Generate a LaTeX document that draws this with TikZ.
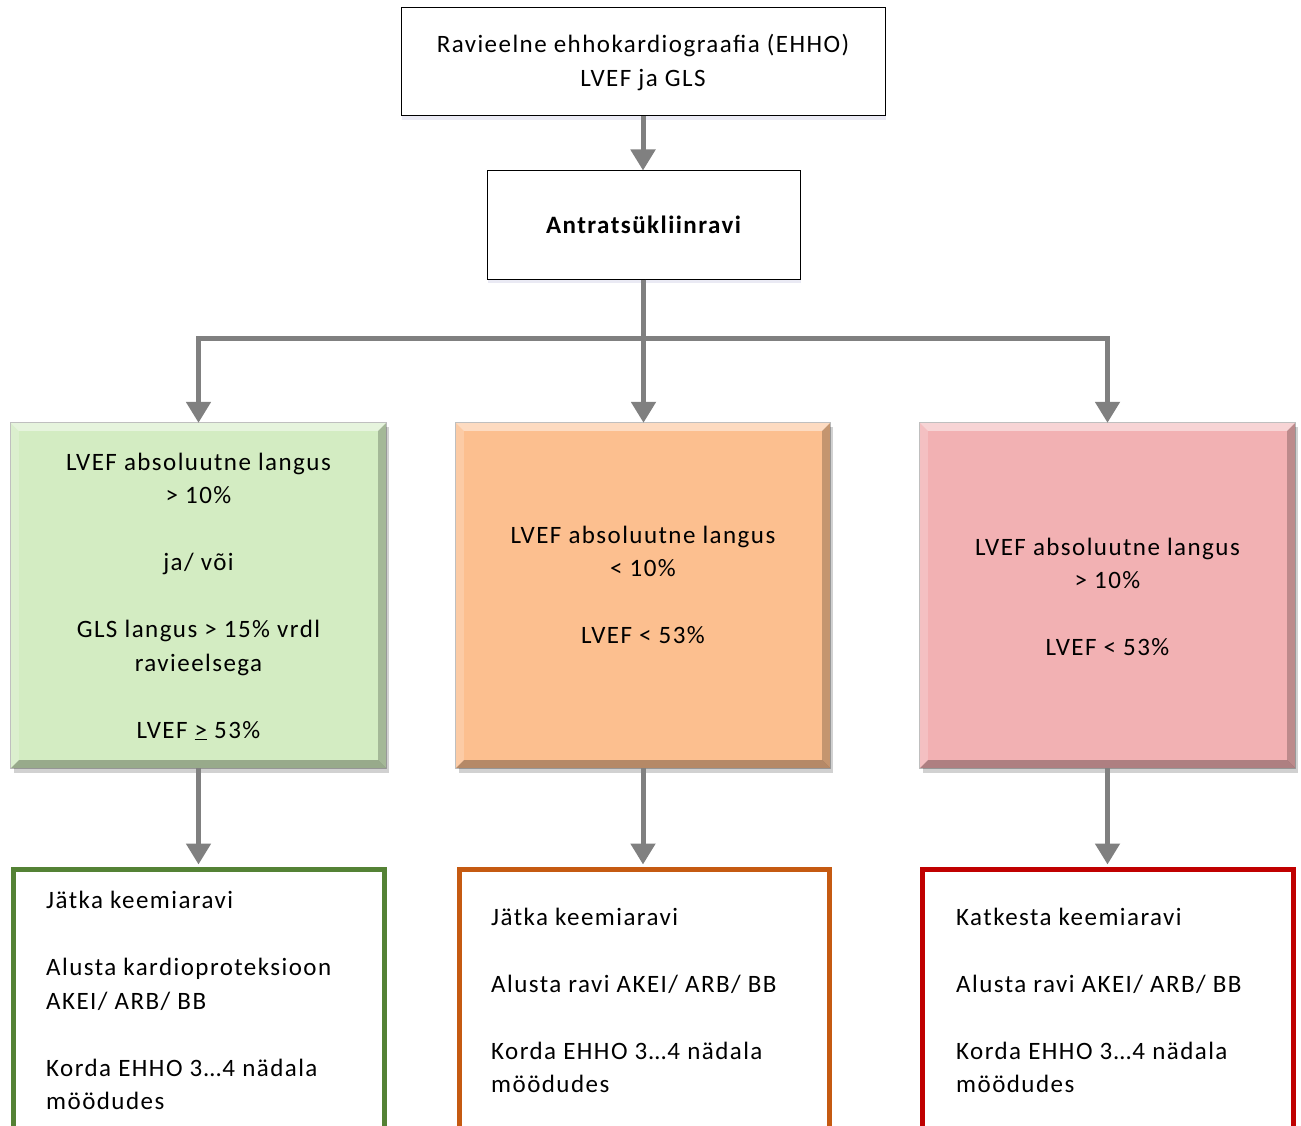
\documentclass[tikz,border=0pt]{standalone}
\usepackage{fontspec}
\setmainfont{Carlito}[LetterSpace=5.8]
\usetikzlibrary{arrows.meta,calc,shadows}
\definecolor{arrowgray}{RGB}{128,128,128}
\definecolor{gfill}{RGB}{211,236,194}
\definecolor{ofill}{RGB}{252,191,143}
\definecolor{rfill}{RGB}{242,177,179}
\definecolor{gline}{RGB}{84,130,53}
\definecolor{oline}{RGB}{197,90,17}
\definecolor{rline}{RGB}{192,0,0}
\newcommand\bevelbox[2]{%
  \fill[black,opacity=.18] ($(#1.north west)+(3,4)$) rectangle ($(#1.south east)+(3,5)$);
  \fill[#2] (#1.north west) rectangle (#1.south east);
  \fill[white,opacity=.45] (#1.north west) -- (#1.north east) -- ($(#1.north east)+(-8,8)$) -- ($(#1.north west)+(8,8)$) -- cycle;
  \fill[white,opacity=.2] (#1.north west) -- ($(#1.north west)+(8,8)$) -- ($(#1.south west)+(8,-8)$) -- (#1.south west) -- cycle;
  \fill[black,opacity=.22] (#1.north east) -- ($(#1.north east)+(-8,8)$) -- ($(#1.south east)+(-8,-8)$) -- (#1.south east) -- cycle;
  \fill[black,opacity=.28] (#1.south west) -- ($(#1.south west)+(8,-8)$) -- ($(#1.south east)+(-8,-8)$) -- (#1.south east) -- cycle;
  \draw[black,opacity=.25,line width=1pt] (#1.north west) rectangle (#1.south east);
}
\tikzset{
  every node/.style={font=\fontsize{25}{33.5}\selectfont, inner sep=0pt},
  plainbox/.style={draw=black, line width=1pt, fill=white,
    drop shadow={shadow xshift=1pt, shadow yshift=-4pt, fill=blue!30!gray, opacity=.12}},
  colbox/.style={minimum width=#1, minimum height=345pt},
  outbox/.style={draw=#1, line width=5pt, minimum width=370pt, minimum height=332pt},
  conn/.style={draw=arrowgray, line width=5pt, -{Triangle[width=24pt,length=21pt]}},
  ctext/.style={align=center},
  ltext/.style={align=left, anchor=west},
}
\begin{document}
\begin{tikzpicture}[x=1pt,y=-1pt]
\useasboundingbox (0,0) rectangle (1301,1126);
\fill[white] (0,0) rectangle (1301,1126);
% top boxes
\node[plainbox, minimum width=484pt, minimum height=108pt] (top) at (643,62) {};
\node[ctext] (toptxt) at (643,62.5) {Ravieelne ehhokardiograafia (EHHO)\\LVEF ja GLS};
\node[plainbox, minimum width=313pt, minimum height=108pt] (mid) at (643.5,225) {};
\node[ctext, font=\fontsize{25}{33.5}\selectfont\bfseries] (midtxt) at (643.5,225) {Antratsükliinravi};
% coloured boxes
\node[colbox=375pt] (g) at (198.5,595.5) {};
\node[colbox=374pt] (o) at (643,595.5) {};
\node[colbox=375pt] (r) at (1107.5,595.5) {};
\bevelbox{g}{gfill}
\bevelbox{o}{ofill}
\bevelbox{r}{rfill}
\node[ctext] (gtxt) at (198.5,596.5) {LVEF absoluutne langus\\> 10\%\\[33.5pt]ja/ või\\[33.5pt]GLS langus > 15\% vrdl\\ravieelsega\\[33.5pt]LVEF \underline{>} 53\%};
\node[ctext] (otxt) at (643,585) {LVEF absoluutne langus\\< 10\%\\[33.5pt]LVEF < 53\%};
\node[ctext] (rtxt) at (1107.5,597) {LVEF absoluutne langus\\> 10\%\\[33.5pt]LVEF < 53\%};
% bottom boxes
\node[outbox=gline, minimum width=370.5pt] (gb) at (198.75,1035.5) {};
\node[outbox=oline] (ob) at (644,1035.5) {};
\node[outbox=rline, minimum width=371pt] (rb) at (1107.5,1035.5) {};
\node[ltext] (gbtxt) at (46,1000.5) {Jätka keemiaravi\\[33.5pt]Alusta kardioproteksioon\\AKEI/ ARB/ BB\\[33.5pt]Korda EHHO 3…4 nädala\\möödudes};
\node[ltext] (obtxt) at (491,1000.5) {Jätka keemiaravi\\[33.5pt]Alusta ravi AKEI/ ARB/ BB\\[33.5pt]Korda EHHO 3…4 nädala\\möödudes};
\node[ltext] (rbtxt) at (956,1000.5) {Katkesta keemiaravi\\[33.5pt]Alusta ravi AKEI/ ARB/ BB\\[33.5pt]Korda EHHO 3…4 nädala\\möödudes};
% connectors
\draw[conn] (top.south) -- (top.south |- mid.north);
\coordinate (split) at (643,338);
\draw[conn] (mid.south) -- (mid.south |- o.north);
\draw[conn] (split) -| (g.north);
\draw[conn] (split) -| (r.north);
\draw[conn, shorten >=2.5pt] (g.south) -- (g.south |- gb.north);
\draw[conn, shorten >=2.5pt] (o.south) -- (o.south |- ob.north);
\draw[conn, shorten >=2.5pt] (r.south) -- (r.south |- rb.north);
\end{tikzpicture}
\end{document}
